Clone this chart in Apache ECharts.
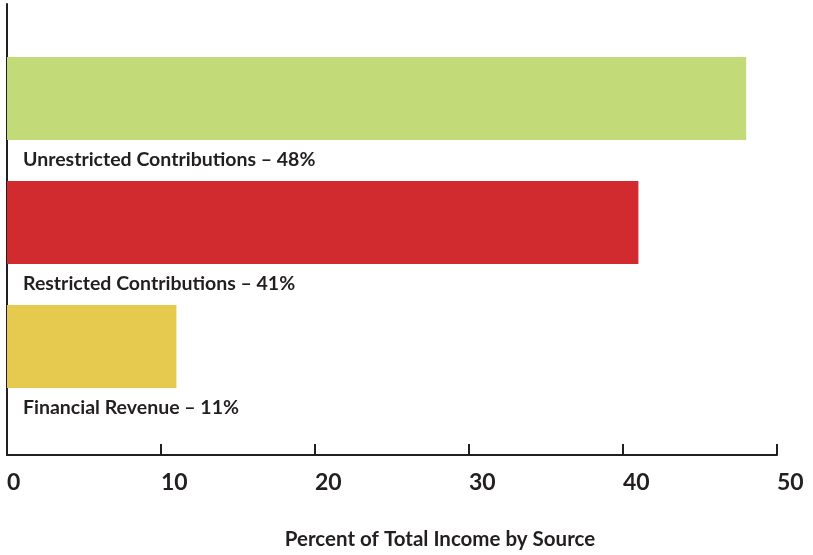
<!DOCTYPE html>
<html>
<head>
<meta charset="utf-8">
<script src="https://cdn.jsdelivr.net/npm/echarts@6/dist/echarts.min.js"></script>
<style>
  html, body { margin: 0; padding: 0; background: #fff; }
  #main { width: 813px; height: 555px; }
</style>
</head>
<body>
<div id="main"></div>
<script>
// 数据
var categories = ['Unrestricted Contributions', 'Restricted Contributions', 'Financial Revenue'];
var values = [48, 41, 11];
var barColors = ['#c2da77', '#d12b2f', '#e6ca4f'];
var xTicks = [0, 10, 20, 30, 40, 50];

var ink = '#231f20';
var font = 'Lato';

var myChart = echarts.init(document.getElementById('main'));

var option = {
    animation: false,
    grid: [
        // 坐标轴框架
        { left: 7, right: 36, top: 4, bottom: 87 },
        // 柱子
        { left: 7, right: 36, top: 36.5, height: 372 }
    ],
    xAxis: [{
        gridIndex: 0,
        type: 'value',
        min: xTicks[0],
        max: xTicks[xTicks.length - 1],
        interval: 10,
        splitLine: { show: false },
        axisLine: { show: true, lineStyle: { color: ink, width: 2 } },
        axisTick: { show: true, inside: true, length: 11, lineStyle: { color: ink, width: 2 } },
        axisLabel: {
            align: 'left',
            margin: 16,
            color: ink,
            fontFamily: font,
            fontWeight: 'bold',
            fontSize: 23
        },
        name: 'Percent of Total Income by Source',
        nameLocation: 'middle',
        nameGap: 66,
        nameMoveOverlap: false,
        nameTextStyle: {
            color: ink,
            fontFamily: font,
            fontWeight: 'bold',
            fontSize: 20.5,
            padding: [8, 0, 0, 96]
        }
    }, {
        gridIndex: 1,
        type: 'value',
        min: xTicks[0],
        max: xTicks[xTicks.length - 1],
        show: false
    }],
    yAxis: [{
        gridIndex: 0,
        type: 'value',
        axisLine: { show: true, lineStyle: { color: ink, width: 2 } },
        axisTick: { show: false },
        axisLabel: { show: false },
        splitLine: { show: false }
    }, {
        gridIndex: 1,
        type: 'category',
        inverse: true,
        data: categories,
        show: false
    }],
    series: [{
        type: 'bar',
        xAxisIndex: 1,
        yAxisIndex: 1,
        barWidth: 83,
        data: values.map(function (v, i) {
            return { value: v, itemStyle: { color: barColors[i] } };
        }),
        label: {
            show: true,
            position: [16, 103],
            verticalAlign: 'middle',
            color: ink,
            fontFamily: font,
            fontWeight: 'bold',
            fontSize: 19.5,
            formatter: function (p) {
                return p.name + ' \u2013 ' + p.value + '%';
            }
        }
    }]
};
myChart.setOption(option);
</script>
</body>
</html>
